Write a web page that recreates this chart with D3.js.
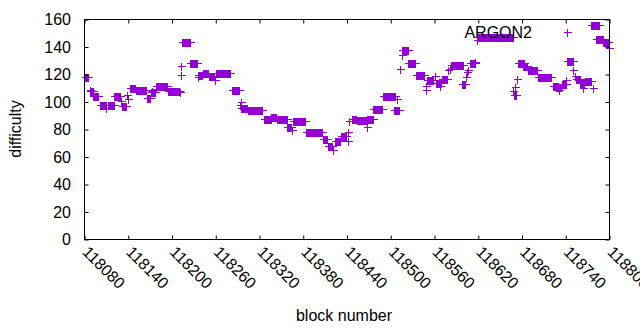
<!DOCTYPE html>
<html lang="en">
<head>
  <meta charset="UTF-8">
  <title>ARGON2 difficulty</title>
  <script src="https://d3js.org/d3.v7.min.js"></script>
  <style>
    * {
      margin: 0;
      padding: 0;
    }
    body {
      background: #fff;
    }
    svg text {
      font-family: 'Liberation Sans', Arial, sans-serif;
      font-size: 16px;
      fill: #000;
    }
    .pt {
      fill: none;
      stroke: #9400d3;
      stroke-width: 1;
      shape-rendering: crispEdges;
    }
  </style>
</head>
<body>
  <svg id="chart" width="640" height="330"></svg>
  <script>
    // runs of blocks that share the same difficulty (start, end, value)
    var runStart = [118081, 118087, 118088, 118092, 118101, 118110, 118112, 118121, 118130, 118132,
      118138, 118140, 118143, 118150, 118166, 118171, 118173, 118178, 118195, 118196,
      118211, 118212, 118213, 118214, 118225, 118235, 118236, 118242, 118251, 118259,
      118261, 118282, 118293, 118294, 118295, 118304, 118326, 118336, 118344, 118358,
      118364, 118366, 118384, 118407, 118414, 118421, 118424, 118432, 118441, 118442,
      118443, 118447, 118454, 118467, 118468, 118476, 118489, 118505, 118508, 118513,
      118515, 118516, 118524, 118534, 118548, 118549, 118550, 118560, 118562, 118568,
      118570, 118579, 118581, 118582, 118598, 118603, 118604, 118606, 118609, 118616,
      118618, 118620, 118668, 118669, 118671, 118673, 118674, 118682, 118688, 118702,
      118722, 118726, 118731, 118735, 118741, 118742, 118750, 118752, 118754, 118759,
      118764, 118766, 118777, 118774, 118775, 118782, 118791, 118799];
    var runEnd = [118085, 118087, 118091, 118099, 118109, 118110, 118120, 118129, 118130, 118137,
      118138, 118140, 118149, 118164, 118170, 118177, 118173, 118193, 118195, 118210,
      118211, 118212, 118213, 118224, 118234, 118235, 118241, 118249, 118258, 118259,
      118280, 118292, 118293, 118294, 118303, 118324, 118336, 118343, 118358, 118363,
      118364, 118382, 118406, 118413, 118420, 118421, 118431, 118439, 118441, 118442,
      118443, 118453, 118466, 118467, 118475, 118488, 118506, 118511, 118508, 118513,
      118515, 118523, 118533, 118546, 118548, 118549, 118558, 118560, 118569, 118568,
      118577, 118579, 118581, 118599, 118602, 118603, 118604, 118606, 118615, 118616,
      118618, 118668, 118668, 118672, 118671, 118673, 118683, 118687, 118700, 118720,
      118729, 118734, 118731, 118740, 118741, 118750, 118750, 118752, 118759, 118765,
      118764, 118775, 118777, 118785, 118774, 118791, 118798, 118799];
    var runValue = [118, 109, 108, 104, 98, 96, 98, 104, 101, 97,
      105, 102, 110, 109, 103, 107, 108, 112, 108, 108,
      107, 126, 120, 144, 128, 118, 120, 121, 119, 116,
      121, 109, 98, 100, 96, 94, 88, 89, 88, 82,
      80, 86, 78, 73, 68, 65, 72, 75, 78, 72,
      86, 88, 87, 82, 88, 95, 104, 94, 102, 124,
      134, 138, 128, 120, 109, 112, 116, 119, 114, 112,
      117, 123, 124, 127, 113, 118, 122, 123, 128, 129,
      145, 147, 108, 105, 111, 117, 128, 126, 123, 118,
      112, 111, 109, 113, 116, 130, 123, 119, 117, 114,
      110, 115, 110, 156, 155, 146, 144, 139];

    var xTicks = [118080, 118140, 118200, 118260, 118320, 118380, 118440, 118500,
      118560, 118620, 118680, 118740, 118800];
    var yTicks = [0, 20, 40, 60, 80, 100, 120, 140, 160];
    var seriesName = "ARGON2";

    // one point per block
    var points = [];
    for (var i = 0; i < runStart.length; i++) {
      for (var b = runStart[i]; b <= runEnd[i]; b++) {
        points.push({ block: b, diff: runValue[i] });
      }
    }

    var svg = d3.select("#chart");
    var plotL = 84.5, plotR = 609.5, plotT = 19.5, plotB = 239.5;

    var x = d3.scaleLinear().domain([118080, 118800]).range([plotL, plotR]);
    var y = d3.scaleLinear().domain([0, 160]).range([plotB, plotT]);

    var plus = "M-4,0H4M0,-4V4";

    // points
    svg.append("g").selectAll("path")
      .data(points)
      .enter().append("path")
      .attr("class", "pt")
      .attr("d", plus)
      .attr("transform", function(d) {
        return "translate(" + (Math.round(x(d.block)) + 0.5) + "," + (Math.round(y(d.diff)) + 0.5) + ")";
      });

    // ticks on all four sides, pointing inward
    svg.append("g")
      .attr("transform", "translate(0," + plotB + ")")
      .call(d3.axisTop(x).tickValues(xTicks).tickSize(4).tickFormat(""))
      .call(function(g) { g.select(".domain").remove(); });
    svg.append("g")
      .attr("transform", "translate(0," + plotT + ")")
      .call(d3.axisBottom(x).tickValues(xTicks).tickSize(4).tickFormat(""))
      .call(function(g) { g.select(".domain").remove(); });
    svg.append("g")
      .attr("transform", "translate(" + plotL + ",0)")
      .call(d3.axisRight(y).tickValues(yTicks).tickSize(4).tickFormat(""))
      .call(function(g) { g.select(".domain").remove(); });
    svg.append("g")
      .attr("transform", "translate(" + plotR + ",0)")
      .call(d3.axisLeft(y).tickValues(yTicks).tickSize(4).tickFormat(""))
      .call(function(g) { g.select(".domain").remove(); });

    svg.append("rect")
      .attr("x", plotL).attr("y", plotT)
      .attr("width", plotR - plotL).attr("height", plotB - plotT)
      .attr("fill", "none").attr("stroke", "#000").attr("stroke-width", 1);

    // y tick labels
    svg.append("g").selectAll("text")
      .data(yTicks)
      .enter().append("text")
      .attr("x", 71)
      .attr("y", function(d) { return y(d); })
      .attr("dy", "0.35em")
      .attr("text-anchor", "end")
      .text(function(d) { return d; });

    // x tick labels, rotated
    svg.append("g").selectAll("text")
      .data(xTicks)
      .enter().append("text")
      .attr("transform", function(d) { return "translate(" + (x(d) - 3) + ",253) rotate(45)"; })
      .text(function(d) { return d; });

    // axis titles
    svg.append("text")
      .attr("transform", "translate(21,129) rotate(-90)")
      .attr("text-anchor", "middle")
      .text("difficulty");
    svg.append("text")
      .attr("x", 344).attr("y", 321)
      .attr("text-anchor", "middle")
      .text("block number");

    // key
    svg.append("text")
      .attr("x", 532).attr("y", 38)
      .attr("text-anchor", "end")
      .text(seriesName);
    svg.append("path")
      .attr("class", "pt")
      .attr("d", plus)
      .attr("transform", "translate(567.5,32.5)");
  </script>
</body>
</html>
